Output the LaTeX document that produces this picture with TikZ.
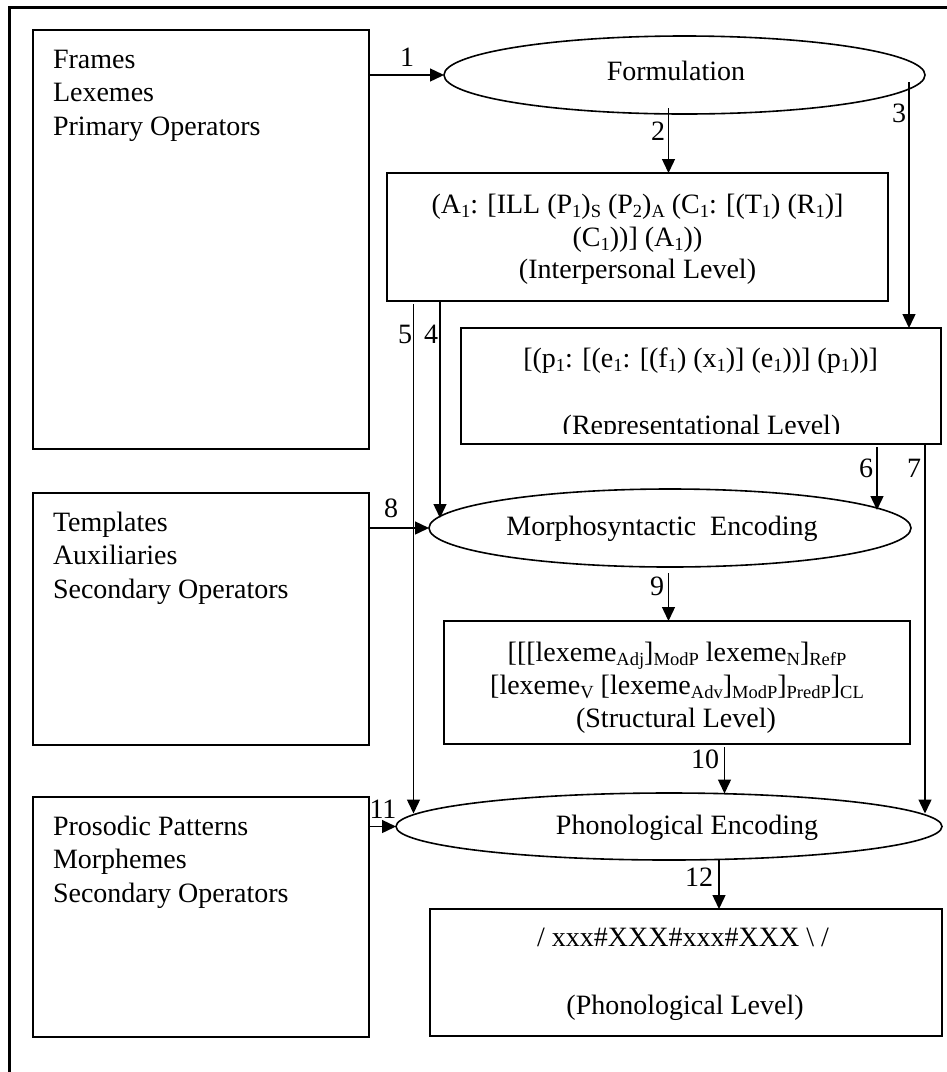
\documentclass[tikz,border=0pt]{standalone}
\usepackage{fontspec}
\setmainfont{Liberation Serif}
\usetikzlibrary{arrows.meta,shapes.geometric,calc}
\newcommand\lowsub[1]{\raisebox{-4pt}{\fontsize{18.5}{18.5}\selectfont #1}}
\tikzset{
  box/.style={draw, line width=1.6pt, rectangle, inner sep=0pt, outer sep=0pt},
  oval/.style={draw, line width=1.6pt, ellipse, inner sep=0pt, outer sep=0pt},
  txt/.style={inner sep=0pt, outer sep=0pt, font=\fontsize{28}{33}\selectfont},
  lab/.style={txt, anchor=base},
  lft/.style={txt, anchor=base west},
  arr/.style={line width=1.4pt, -{Triangle[length=14pt,width=13pt]}},
}
\begin{document}
\begin{tikzpicture}[x=1pt,y=-1pt]
\useasboundingbox (0,0) rectangle (947,1072);
\clip (0,0) rectangle (947,1072);
% outer frame
\draw[line width=3.5pt] (9.5,1090) -- (9.5,7.5) -- (960,7.5);

% left boxes
\node[box, minimum width=336pt, minimum height=419pt] (frames) at (201,239.5) {};
\node[lft] (fr1) at (53,68) {Frames};
\node[lft] (fr2) at (53,101) {Lexemes};
\node[lft] (fr3) at (53,135) {Primary Operators};

\node[box, minimum width=336pt, minimum height=252pt] (templates) at (201,619) {};
\node[lft] (tp1) at (53,531) {Templates};
\node[lft] (tp2) at (53,564.5) {Auxiliaries};
\node[lft] (tp3) at (53,598.5) {Secondary Operators};

\node[box, minimum width=336pt, minimum height=240pt] (prosodic) at (201,917) {};
\node[lft] (pr1) at (53,835) {Prosodic Patterns};
\node[lft] (pr2) at (53,868.5) {Morphemes};
\node[lft] (pr3) at (53,902.5) {Secondary Operators};

% ellipses
\node[oval, minimum width=481pt, minimum height=78pt] (formulation) at (684.5,75) {};
\node[lab] (formtxt) at (676,80) {Formulation};
\node[oval, minimum width=482pt, minimum height=78pt] (morph) at (670,528) {};
\node[lab] (morphtxt) at (662,535) {Morphosyntactic\ \ Encoding};
\node[oval, minimum width=546pt, minimum height=67pt] (phon) at (669,826.5) {};
\node[lab] (phontxt) at (687,834) {Phonological Encoding};

% level boxes
\node[box, minimum width=501pt, minimum height=128pt] (interp) at (637.5,237) {};
\node[lab] (ip1) at (637.5,213) {(A\lowsub{1}: [ILL (P\lowsub{1})\lowsub{S} (P\lowsub{2})\lowsub{A} (C\lowsub{1}: [(T\lowsub{1}) (R\lowsub{1})]};
\node[lab] (ip2) at (637.5,246) {(C\lowsub{1}))] (A\lowsub{1}))};
\node[lab] (ip3) at (637.5,278) {(Interpersonal Level)};

\node[box, minimum width=480pt, minimum height=116pt] (repr) at (701,386) {};
\node[lab] (rp1) at (700.7,367) {[(p\lowsub{1}: [(e\lowsub{1}: [(f\lowsub{1}) (x\lowsub{1})] (e\lowsub{1}))] (p\lowsub{1}))]};
\begin{scope}
  \clip ([yshift=11pt]repr.south west) rectangle (repr.north east);
  \node[lab] (rp2) at (701.5,434) {(Representational Level)};
\end{scope}

\node[box, minimum width=466pt, minimum height=123pt] (struct) at (677,682.5) {};
\node[lab] (st1) at (677,661) {[[[lexeme\lowsub{Adj}]\lowsub{ModP} lexeme\lowsub{N}]\lowsub{RefP}};
\node[lab] (st2) at (677,694) {[lexeme\lowsub{V} [lexeme\lowsub{Adv}]\lowsub{ModP}]\lowsub{PredP}]\lowsub{CL}};
\node[lab] (st3) at (676,727) {(Structural Level)};

\node[box, minimum width=512pt, minimum height=127pt] (phonbox) at (686,972.5) {};
\node[lab] (pb1) at (683,946) {/ xxx\#XXX\#xxx\#XXX \textbackslash{} /};
\node[lab] (pb2) at (685,1014) {(Phonological Level)};

% connectors
\draw[arr] (frames.east |- formulation.west) -- (formulation.west);
\node[lab] (l1) at (407,66) {1};

\coordinate (a2) at ([xshift=-16pt,yshift=6pt]formulation.south);
\draw[arr] (a2) -- (a2 |- interp.north);
\node[lab] (l2) at (658,140) {2};

\coordinate (a3) at ([xshift=224.5pt,yshift=-7pt]formulation.center);
\draw[arr] (a3) -- (a3 |- repr.north);
\node[lab] (l3) at (899,122) {3};

\coordinate (a4) at ([xshift=-197.5pt]interp.south);
\coordinate (b4) at ([xshift=-230pt,yshift=10pt]morph.center);
\draw[arr] (a4) -- (b4);
\node[lab] (l4) at (431,343) {4};

\coordinate (a5) at ([xshift=-224pt,yshift=-3pt]interp.south);
\coordinate (b5) at ([xshift=-255.5pt,yshift=13pt]phon.center);
\draw[arr] (a5) -- (b5);
\node[lab] (l5) at (405,343) {5};

\coordinate (a6) at ([xshift=176pt,yshift=-3pt]repr.south);
\coordinate (b6) at ([xshift=207pt,yshift=18pt]morph.center);
\draw[arr] (a6) -- (b6);
\node[lab] (l6) at (866,477) {6};

\coordinate (a7) at ([xshift=224pt]repr.south);
\coordinate (b7) at ([xshift=256pt,yshift=13pt]phon.center);
\draw[arr] (a7) -- (b7);
\node[lab] (l7) at (914,477) {7};

\draw[arr] (templates.east |- morph.west) -- (morph.west);
\node[lab] (l8) at (391,517) {8};

\coordinate (a9) at ([xshift=-1.5pt,yshift=-6pt]morph.south);
\draw[arr] (a9) -- (a9 |- struct.north);
\node[lab] (l9) at (657,595) {9};

\coordinate (a10) at ([xshift=47.5pt,yshift=-3pt]struct.south);
\coordinate (b10) at ([xshift=55.5pt,yshift=33pt]phon.center);
\draw[arr] (a10) -- (b10);
\node[lab] (l10) at (705,768) {10};

\draw[arr] (prosodic.east |- phon.west) -- (phon.west);
\node[lab] (l11) at (383,818) {11};

\coordinate (a12) at ([xshift=50pt]phon.south);
\draw[arr] (a12) -- (a12 |- phonbox.north);
\node[lab] (l12) at (699,886) {12};
\end{tikzpicture}
\end{document}
